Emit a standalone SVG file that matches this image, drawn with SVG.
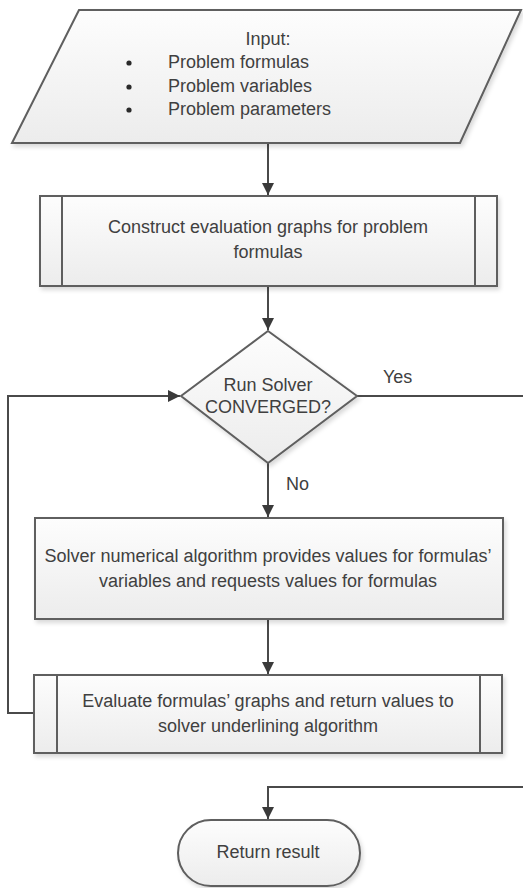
<svg xmlns="http://www.w3.org/2000/svg" width="523" height="888" viewBox="0 0 523 888">
  <style>
    .shape { fill: url(#g); stroke: #5e5e5e; stroke-width: 2; filter: url(#sh); }
    .inner { stroke: #5e5e5e; stroke-width: 2; fill: none; }
    .t { font-family: "Liberation Sans", Arial, sans-serif; font-size: 18px; fill: #404040; text-anchor: middle; }
    .tl { font-family: "Liberation Sans", Arial, sans-serif; font-size: 18px; fill: #404040; }
    .conn { stroke: #4a4a4a; stroke-width: 2; fill: none; }
  </style>
  <defs>
    <linearGradient id="g" x1="0" y1="0" x2="0" y2="1">
      <stop offset="0" stop-color="#fdfdfd"/>
      <stop offset="1" stop-color="#ececec"/>
    </linearGradient>
    <filter id="sh" x="-10%" y="-10%" width="120%" height="130%">
      <feDropShadow dx="2" dy="3" stdDeviation="2" flood-color="#000" flood-opacity="0.15"/>
    </filter>
    <marker id="arr" markerWidth="14" markerHeight="14" refX="12" refY="6.5" orient="auto" markerUnits="userSpaceOnUse">
      <path d="M0,0.5 L12,6.5 L0,12.5 Z" fill="#3a3a3a"/>
    </marker>
  </defs>
  <rect width="523" height="888" fill="#ffffff"/>

  <g id="connectors">
    <path class="conn" d="M268,143 V195" marker-end="url(#arr)"/>
    <path class="conn" d="M268,286 V330" marker-end="url(#arr)"/>
    <path class="conn" d="M268,463 V517" marker-end="url(#arr)"/>
    <path class="conn" d="M268,619 V674" marker-end="url(#arr)"/>
    <path class="conn" d="M34,713 H8 V396 H180" marker-end="url(#arr)"/>
    <path class="conn" d="M357,396 H526"/>
    <path class="conn" d="M526,787 H268 V819" marker-end="url(#arr)"/>
    <text class="tl" x="383" y="383">Yes</text>
    <text class="tl" x="286" y="490">No</text>
  </g>

  <g id="input">
    <polygon class="shape" points="79,10 521,10 460,143 12,143"/>
    <text class="t" x="268" y="45">Input:</text>
    <circle cx="129" cy="63" r="2.6" fill="#2a2a2a"/>
    <circle cx="129" cy="87" r="2.6" fill="#2a2a2a"/>
    <circle cx="129" cy="110" r="2.6" fill="#2a2a2a"/>
    <text class="tl" x="168" y="68">Problem formulas</text>
    <text class="tl" x="168" y="92">Problem variables</text>
    <text class="tl" x="168" y="115">Problem parameters</text>
  </g>

  <g id="construct">
    <rect class="shape" x="40" y="196" width="457" height="90"/>
    <path class="inner" d="M62,196 V286 M475,196 V286"/>
    <text class="t" x="268" y="233">Construct evaluation graphs for problem</text>
    <text class="t" x="268" y="258">formulas</text>
  </g>

  <g id="decision">
    <polygon class="shape" points="268,331 357,396 268,463 181,396"/>
    <text class="t" x="268" y="391">Run Solver</text>
    <text class="t" x="268" y="413">CONVERGED?</text>
  </g>

  <g id="solver">
    <rect class="shape" x="35" y="518" width="468" height="101"/>
    <text class="t" x="268" y="562">Solver numerical algorithm provides values for formulas’</text>
    <text class="t" x="268" y="587">variables and requests values for formulas</text>
  </g>

  <g id="evaluate">
    <rect class="shape" x="34" y="675" width="468" height="78"/>
    <path class="inner" d="M57,675 V753 M480,675 V753"/>
    <text class="t" x="268" y="707">Evaluate formulas’ graphs and return values to</text>
    <text class="t" x="268" y="732">solver underlining algorithm</text>
  </g>

  <g id="return">
    <rect class="shape" x="178" y="820" width="182" height="66" rx="33" ry="33"/>
    <text class="t" x="268" y="858">Return result</text>
  </g>
</svg>
